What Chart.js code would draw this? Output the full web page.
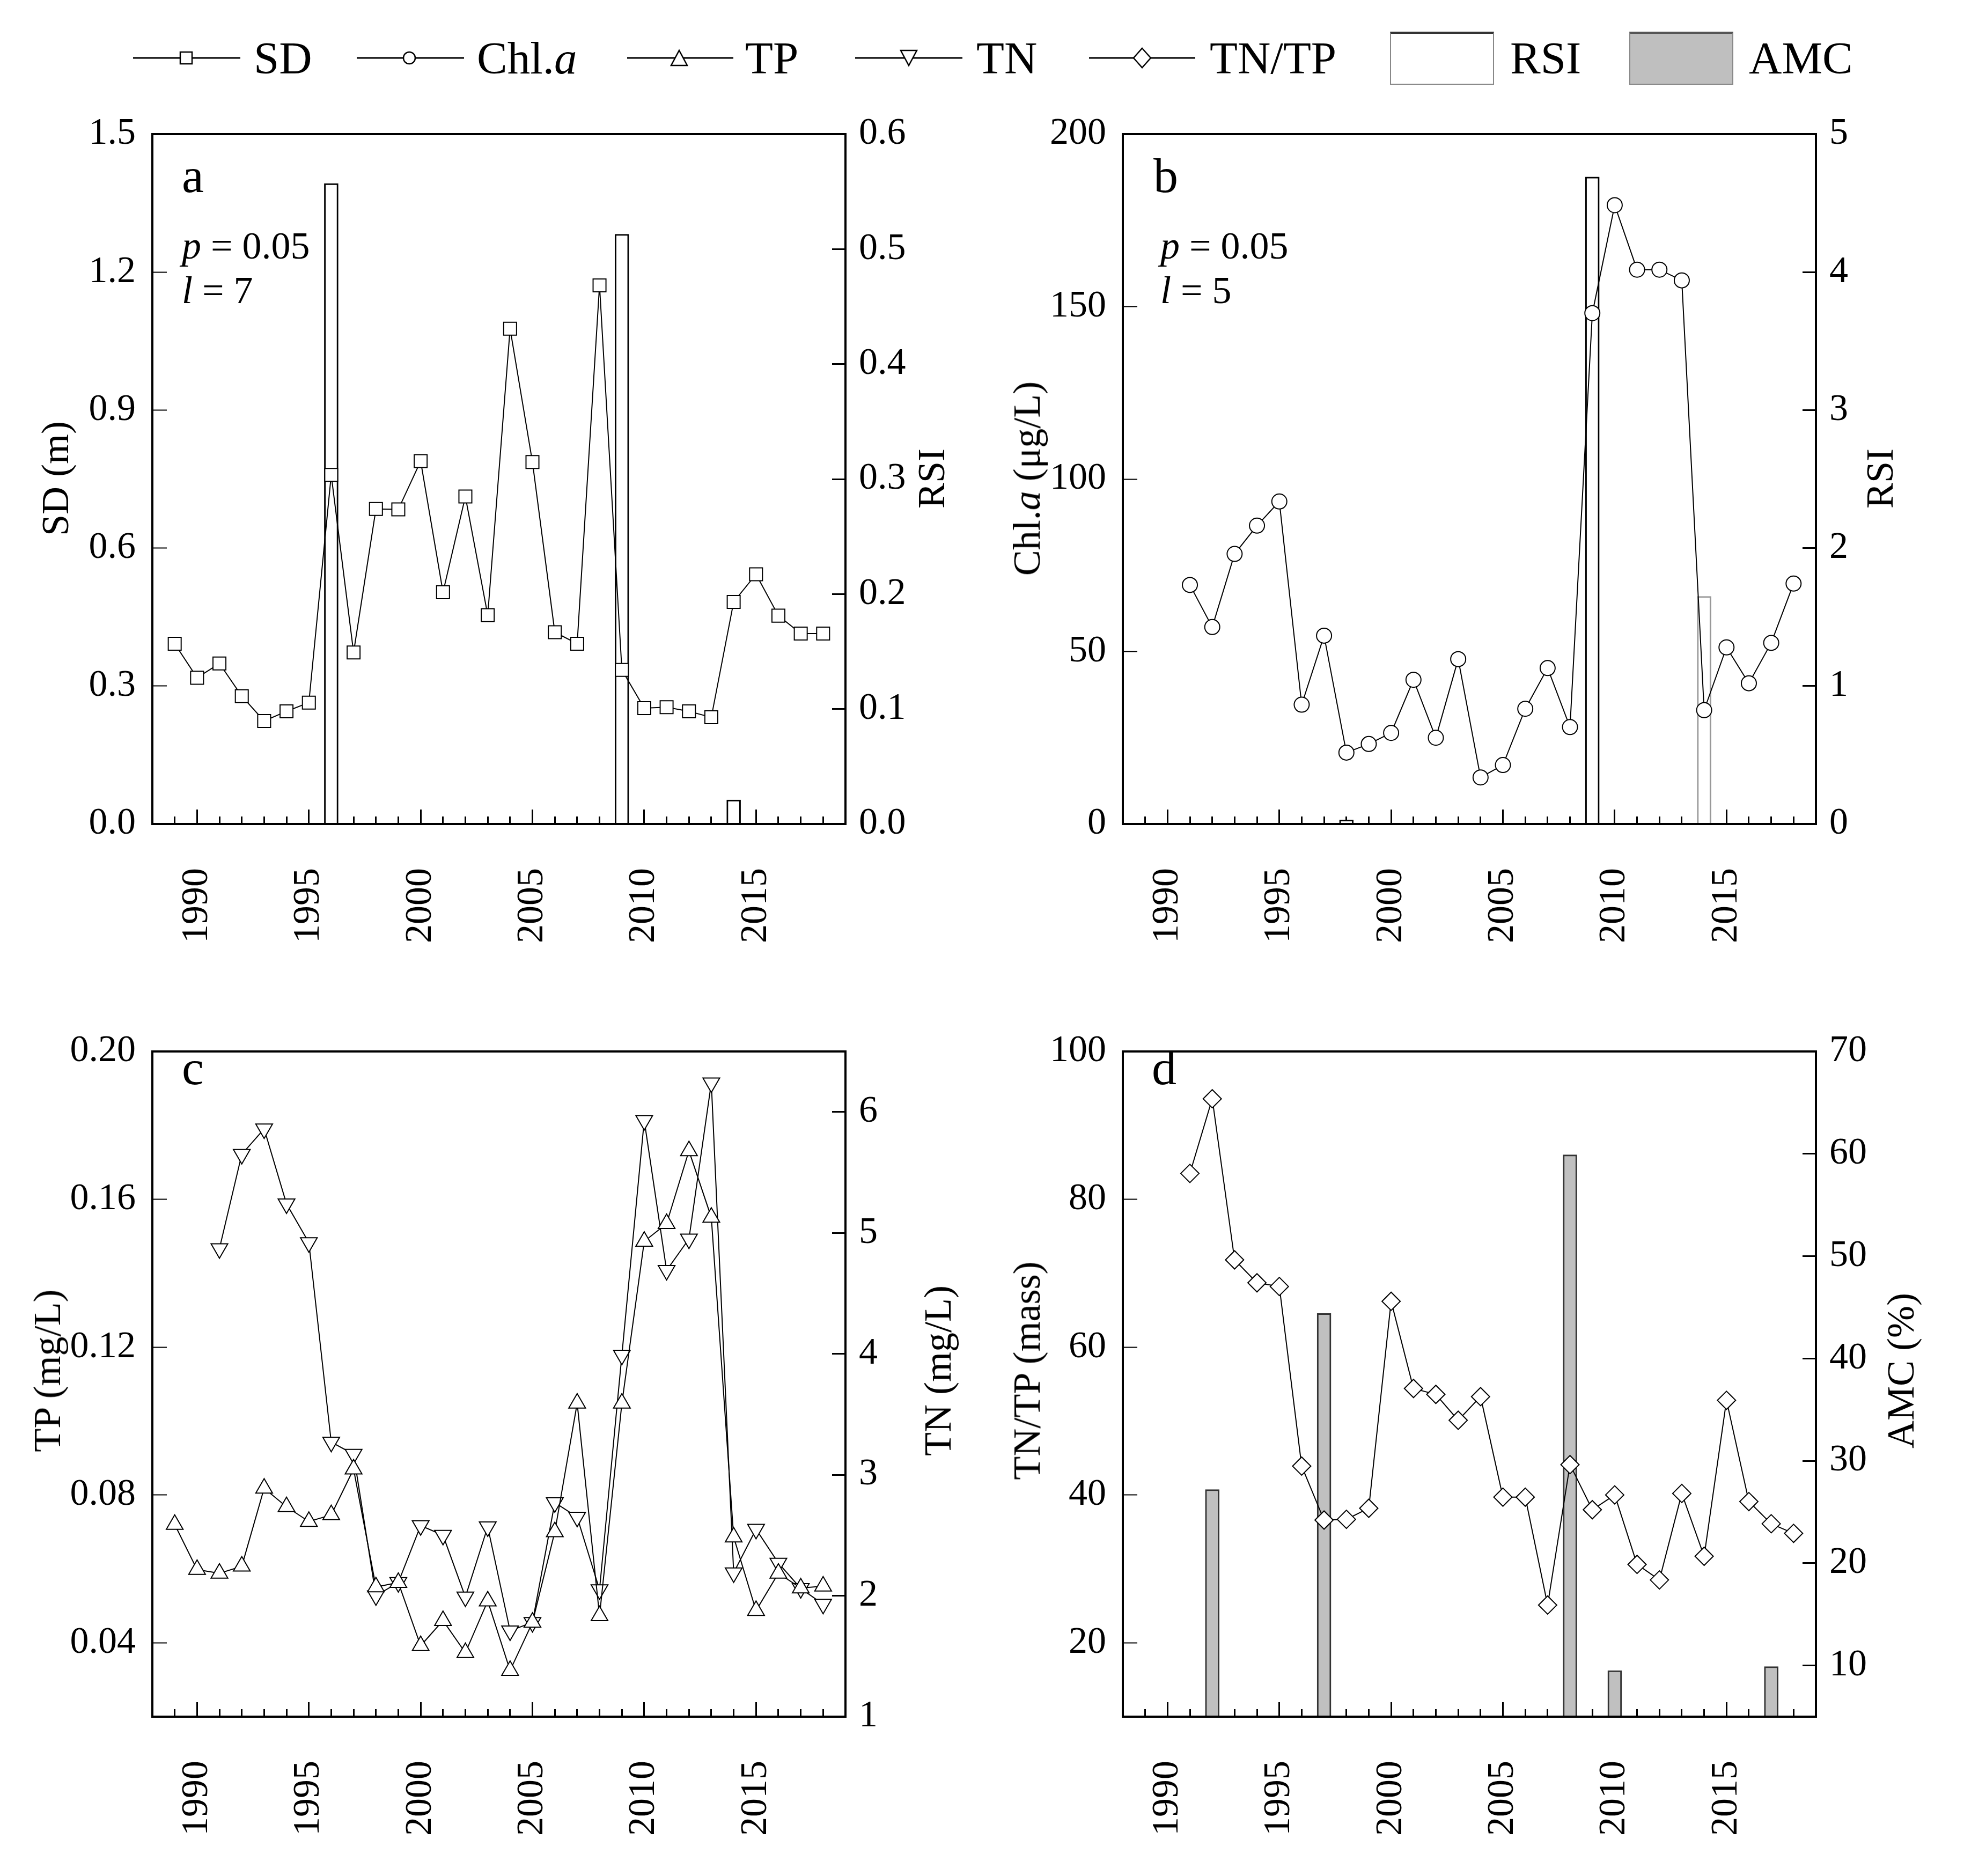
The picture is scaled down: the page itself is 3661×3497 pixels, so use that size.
<!DOCTYPE html>
<html lang="en">
<head>
<meta charset="UTF-8">
<title>SD, Chl.a, TP, TN and TN/TP with RSI and AMC</title>
<script src="https://cdn.jsdelivr.net/npm/chart.js@4.4.1/dist/chart.umd.min.js"></script>
<style>
  body { margin: 0; background: #fff; }
  #page { position: relative; width: 3661px; height: 3497px; overflow: hidden;
          font-family: 'Liberation Serif', 'Times New Roman', serif; color: #000; }
  canvas { position: absolute; }
  .txt { position: absolute; white-space: nowrap; line-height: 1; }
  .leg { font-size: 85px; top: 66px; }
  .tag { font-size: 92px; }
  .note { font-size: 72px; }
  .vt { position: absolute; white-space: nowrap; line-height: 1; font-size: 72px;
        transform: translate(-50%, -50%) rotate(-90deg); }
  svg { position: absolute; overflow: visible; }
  .box { position: absolute; top: 59px; width: 194px; height: 99px; box-sizing: border-box; }
</style>
</head>
<body>
<div id="page">
  <!-- legend -->
  <svg style="left:248px;top:78px" width="200" height="60">
    <line x1="0" y1="30" x2="200" y2="30" stroke="#000" stroke-width="3"/>
    <rect x="88" y="19" width="22" height="22" fill="#fff" stroke="#000" stroke-width="2.5"/>
  </svg>
  <span class="txt leg" style="left:473px">SD</span>
  <svg style="left:665px;top:78px" width="200" height="60">
    <line x1="0" y1="30" x2="200" y2="30" stroke="#000" stroke-width="3"/>
    <circle cx="98" cy="30" r="11" fill="#fff" stroke="#000" stroke-width="2.5"/>
  </svg>
  <span class="txt leg" style="left:889px">Chl.<i>a</i></span>
  <svg style="left:1169px;top:78px" width="200" height="60">
    <line x1="0" y1="30" x2="198" y2="30" stroke="#000" stroke-width="3"/>
    <polygon points="97,16 112,44 82,44" fill="#fff" stroke="#000" stroke-width="2.5"/>
  </svg>
  <span class="txt leg" style="left:1389px">TP</span>
  <svg style="left:1594px;top:78px" width="200" height="60">
    <line x1="0" y1="30" x2="200" y2="30" stroke="#000" stroke-width="3"/>
    <polygon points="85,16 115,16 100,44" fill="#fff" stroke="#000" stroke-width="2.5"/>
  </svg>
  <span class="txt leg" style="left:1820px">TN</span>
  <svg style="left:2030px;top:78px" width="200" height="60">
    <line x1="0" y1="30" x2="198" y2="30" stroke="#000" stroke-width="3"/>
    <polygon points="99,12 115,30 99,48 83,30" fill="#fff" stroke="#000" stroke-width="2.5"/>
  </svg>
  <span class="txt leg" style="left:2255px">TN/TP</span>
  <div class="box" style="left:2591px;background:#fff;border:2px solid #888;border-top:4px solid #333"></div>
  <span class="txt leg" style="left:2815px">RSI</span>
  <div class="box" style="left:3037px;background:#bfbfbf;border:2px solid #888;border-top:4px solid #555"></div>
  <span class="txt leg" style="left:3260px">AMC</span>

  <canvas id="chartA" width="1830" height="1720" style="left:0px;top:150px"></canvas>
  <canvas id="chartB" width="1831" height="1720" style="left:1830px;top:150px"></canvas>
  <canvas id="chartC" width="1830" height="1637" style="left:0px;top:1860px"></canvas>
  <canvas id="chartD" width="1831" height="1637" style="left:1830px;top:1860px"></canvas>

  <!-- axis titles -->
  <span class="vt" style="left:103px;top:892px">SD (m)</span>
  <span class="vt" style="left:1736px;top:892px">RSI</span>
  <span class="vt" style="left:1914px;top:892px">Chl.<i>a</i> (μg/L)</span>
  <span class="vt" style="left:3504px;top:892px">RSI</span>
  <span class="vt" style="left:88px;top:2555px">TP (mg/L)</span>
  <span class="vt" style="left:1748px;top:2555px">TN (mg/L)</span>
  <span class="vt" style="left:1914px;top:2555px">TN/TP (mass)</span>
  <span class="vt" style="left:3543px;top:2555px">AMC (%)</span>

  <!-- panel tags and notes -->
  <span class="txt tag" style="left:339px;top:281px">a</span>
  <span class="txt note" style="left:339px;top:422px"><i>p</i> = 0.05</span>
  <span class="txt note" style="left:339px;top:505px"><i>l</i> = 7</span>
  <span class="txt tag" style="left:2150px;top:281px">b</span>
  <span class="txt note" style="left:2163px;top:422px"><i>p</i> = 0.05</span>
  <span class="txt note" style="left:2163px;top:505px"><i>l</i> = 5</span>
  <span class="txt tag" style="left:339px;top:1944px">c</span>
  <span class="txt tag" style="left:2147px;top:1944px">d</span>
</div>

<script>
// ---- data ----
const yearsFull = [1989, 1990, 1991, 1992, 1993, 1994, 1995, 1996, 1997, 1998, 1999, 2000, 2001, 2002, 2003,
                   2004, 2005, 2006, 2007, 2008, 2009, 2010, 2011, 2012, 2013, 2014, 2015, 2016, 2017, 2018];
const yearsFrom1991 = [1991, 1992, 1993, 1994, 1995, 1996, 1997, 1998, 1999, 2000, 2001, 2002, 2003, 2004,
                       2005, 2006, 2007, 2008, 2009, 2010, 2011, 2012, 2013, 2014, 2015, 2016, 2017, 2018];

const sdValues = [0.392, 0.318, 0.349, 0.278, 0.224, 0.245, 0.264, 0.759, 0.373, 0.685, 0.684, 0.789, 0.504, 0.712, 0.454,
                  1.077, 0.787, 0.417, 0.392, 1.171, 0.335, 0.252, 0.254, 0.245, 0.232, 0.483, 0.543, 0.453, 0.414, 0.414];
const rsiYearsA = [1996, 2009, 2014];
const rsiValuesA = [0.557, 0.513, 0.021];

const chlValues = [69.3, 57.1, 78.3, 86.5, 93.5, 34.6, 54.6, 20.7, 23.2, 26.4, 41.8, 25.0, 47.8, 13.5,
                   17.1, 33.4, 45.2, 28.1, 148.1, 179.4, 160.7, 160.7, 157.6, 33.0, 51.2, 40.8, 52.5, 69.7];
const rsiYearsB = [1998, 2009, 2014];
const rsiValuesB = [0.03, 4.69, 1.65];

const tpValues = [0.0720, 0.0598, 0.0588, 0.0607, 0.0818, 0.0768, 0.0728, 0.0746, 0.0870, 0.0551, 0.0563, 0.0392, 0.0460, 0.0373, 0.0513,
                  0.0325, 0.0455, 0.0700, 0.1048, 0.0473, 0.1048, 0.1486, 0.1534, 0.1731, 0.1551, 0.0686, 0.0487, 0.0588, 0.0548, 0.0553];
const tnValues = [4.87, 5.65, 5.86, 5.24, 4.92, 3.27, 3.17, 2.00, 2.11, 2.58, 2.50, 1.99, 2.57, 1.71,
                  1.78, 2.77, 2.65, 2.05, 3.99, 5.93, 4.69, 4.95, 6.24, 2.19, 2.55, 2.27, 2.06, 1.93];

const ratioValues = [83.5, 93.6, 71.8, 68.7, 68.2, 43.9, 36.6, 36.7, 38.2, 66.2, 54.4, 53.6, 50.1, 53.3,
                     39.7, 39.7, 25.1, 44.1, 38.0, 40.0, 30.6, 28.5, 40.2, 31.7, 52.8, 39.1, 36.1, 34.8];
const amcYears = [1992, 1997, 2008, 2010, 2017];
const amcValues = [27.2, 44.4, 59.9, 9.5, 9.9];

// ---- helpers ----
Chart.defaults.font.family = "'Liberation Serif', 'Times New Roman', serif";
Chart.defaults.color = '#000';

const toXY = (xs, ys) => xs.map((x, i) => ({ x: x, y: ys[i] }));

const framePlugin = {
  id: 'frame',
  afterDraw(chart) {
    const a = chart.chartArea, ctx = chart.ctx;
    ctx.save();
    ctx.strokeStyle = '#000';
    ctx.lineWidth = 4;
    ctx.strokeRect(a.left, a.top, a.right - a.left, a.bottom - a.top);
    ctx.restore();
  }
};

function lineSet(xs, ys, style, radius, axis, rotation) {
  return {
    type: 'line', data: toXY(xs, ys), xAxisID: 'x', yAxisID: axis, order: 0,
    borderColor: '#000', borderWidth: 2, tension: 0,
    pointStyle: style, pointRadius: radius, pointRotation: rotation || 0,
    pointBorderWidth: 2, pointBorderColor: '#000', pointBackgroundColor: '#fff'
  };
}

function barSet(xs, ys, fill, border) {
  return {
    type: 'bar', data: toXY(xs, ys), xAxisID: 'x', yAxisID: 'y2', order: 2,
    barThickness: 26, backgroundColor: fill, borderColor: border, borderWidth: 3
  };
}

function makePanel(id, p) {
  new Chart(document.getElementById(id), {
    type: 'line',
    data: { datasets: p.datasets },
    options: {
      responsive: false, animation: false, devicePixelRatio: 1,
      layout: { padding: { top: p.padTop, left: 0, right: 0, bottom: 0 } },
      plugins: { legend: { display: false }, tooltip: { enabled: false } },
      scales: {
        x: {
          type: 'linear', position: 'bottom', weight: 1, min: 1988, max: 2019,
          offset: false,
          afterFit: s => { s.height = p.xHeight; },
          border: { display: false },
          grid: { offset: false, drawOnChartArea: false, tickLength: -27, tickWidth: 3, tickColor: '#000' },
          ticks: { stepSize: 5, includeBounds: false, autoSkip: false, minRotation: 90, maxRotation: 90,
                   padding: 109, font: { size: 70 }, callback: v => String(v) }
        },
        xMinor: {
          type: 'linear', position: 'bottom', weight: 0, min: 1988, max: 2019,
          offset: false,
          afterFit: s => { s.height = 0; },
          border: { display: false },
          grid: { offset: false, drawOnChartArea: false, tickLength: -14, tickWidth: 3, tickColor: '#000' },
          ticks: { display: false, stepSize: 1 }
        },
        y: {
          type: 'linear', position: 'left', min: p.yMin, max: p.yMax,
          afterFit: s => { s.width = p.leftWidth; },
          border: { display: false },
          grid: { drawOnChartArea: false, tickLength: -27, tickWidth: 2, tickColor: '#000' },
          ticks: { stepSize: p.yStep, includeBounds: false, padding: 58, font: { size: 70 },
                   callback: v => v.toFixed(p.yDec) }
        },
        y2: {
          type: 'linear', position: 'right', min: p.y2Min, max: p.y2Max,
          afterFit: s => { s.width = p.rightWidth; },
          border: { display: false },
          grid: { drawOnChartArea: false, tickLength: -25, tickWidth: 3, tickColor: '#000' },
          ticks: { stepSize: p.y2Step, includeBounds: false, padding: 50, font: { size: 70 },
                   callback: v => v.toFixed(p.y2Dec) }
        }
      }
    },
    plugins: [framePlugin]
  });
}

// ---- panels ----
makePanel('chartA', {
  padTop: 97, xHeight: 334, leftWidth: 284, rightWidth: 254,
  yMin: 0, yMax: 1.5, yStep: 0.3, yDec: 1,
  y2Min: 0, y2Max: 0.6, y2Step: 0.1, y2Dec: 1,
  datasets: [
    lineSet(yearsFull, sdValues, 'rect', 17, 'y'),
    barSet(rsiYearsA, rsiValuesA, '#fff', '#000')
  ]
});

makePanel('chartB', {
  padTop: 97, xHeight: 334, leftWidth: 263, rightWidth: 276,
  yMin: 0, yMax: 200, yStep: 50, yDec: 0,
  y2Min: 0, y2Max: 5, y2Step: 1, y2Dec: 0,
  datasets: [
    lineSet(yearsFrom1991, chlValues, 'circle', 14, 'y'),
    barSet(rsiYearsB, rsiValuesB, '#fff', ['#000', '#000', '#999'])
  ]
});

makePanel('chartC', {
  padTop: 49, xHeight: 297, leftWidth: 284, rightWidth: 254,
  yMin: 0.02, yMax: 0.20, yStep: 0.04, yDec: 2,
  y2Min: 1, y2Max: 6.5, y2Step: 1, y2Dec: 0,
  datasets: [
    lineSet(yearsFull, tpValues, 'triangle', 18, 'y'),
    lineSet(yearsFrom1991, tnValues, 'triangle', 18, 'y2', 180)
  ]
});

makePanel('chartD', {
  padTop: 49, xHeight: 297, leftWidth: 263, rightWidth: 276,
  yMin: 10, yMax: 100, yStep: 20, yDec: 0,
  y2Min: 5, y2Max: 70, y2Step: 10, y2Dec: 0,
  datasets: [
    lineSet(yearsFrom1991, ratioValues, 'rectRot', 17, 'y'),
    barSet(amcYears, amcValues, '#c0c0c0', '#333')
  ]
});
</script>
</body>
</html>
